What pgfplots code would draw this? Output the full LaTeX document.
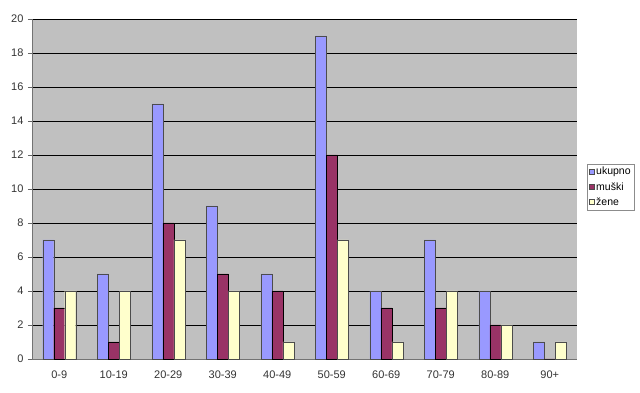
\documentclass[border=0pt]{standalone}
\usepackage{pgfplots}
\pgfplotsset{compat=1.18}
\usepackage{fontspec}
\setmainfont{Liberation Sans}
\definecolor{cuk}{RGB}{153,153,255}
\definecolor{cmu}{RGB}{153,51,102}
\definecolor{cze}{RGB}{255,255,204}
\definecolor{plotbg}{RGB}{192,192,192}
\begin{document}
\begin{tikzpicture}
\begin{axis}[
  scale only axis,
  width=545pt, height=340pt,
  xmin=-0.5, xmax=9.5, ymin=0, ymax=20,
  ybar=0pt, bar width=11pt,
  axis background/.style={fill=plotbg},
  axis line style={draw=black!55},
  axis x line*=bottom, axis y line*=left,
  xtick={0,...,9},
  xticklabels={0-9,10-19,20-29,30-39,40-49,50-59,60-69,70-79,80-89,90+},
  major x tick style={draw=none},
  extra x ticks={-0.5,0.5,...,9.5},
  extra x tick labels={},
  extra x tick style={tick style={draw=black!60}, major tick length=4pt, tick pos=bottom, xtick align=outside, grid=none},
  ytick={0,2,...,20},
  ytick align=outside, major tick length=4pt,
  ytick style={draw=black!60},
  ymajorgrids, grid style={draw=black, line width=0.5pt},
  tick label style={font=\fontsize{11}{13}\selectfont, text=black!80},
  /pgf/number format/assume math mode=true,
  xticklabel style={yshift=-4pt},
  yticklabel style={xshift=-1pt},
  legend style={at={(1,0.5)}, anchor=west, xshift=10pt, yshift=2pt, draw=black!45, fill=white,
    font=\fontsize{10.5}{12}\selectfont, inner sep=1.5pt, row sep=2pt},
  legend image code/.code={\draw[#1, draw=black!70] (0cm,-0.09cm) rectangle (0.18cm,0.09cm);},
  legend cell align=left,
  clip=false,
]
\addplot[fill=cuk, draw=black!70] coordinates {(0,7)(1,5)(2,15)(3,9)(4,5)(5,19)(6,4)(7,7)(8,4)(9,1)};
\addplot[fill=cmu, draw=black] coordinates {(0,3)(1,1)(2,8)(3,5)(4,4)(5,12)(6,3)(7,3)(8,2)(9,0)};
\addplot[fill=cze, draw=black!70] coordinates {(0,4)(1,4)(2,7)(3,4)(4,1)(5,7)(6,1)(7,4)(8,2)(9,1)};
\legend{ukupno,muški,žene}
\end{axis}
\path (current axis.south west) ++(-32pt,-34pt) coordinate (bl);
\path (bl) rectangle ++(640pt,393pt);
\end{tikzpicture}
\end{document}
